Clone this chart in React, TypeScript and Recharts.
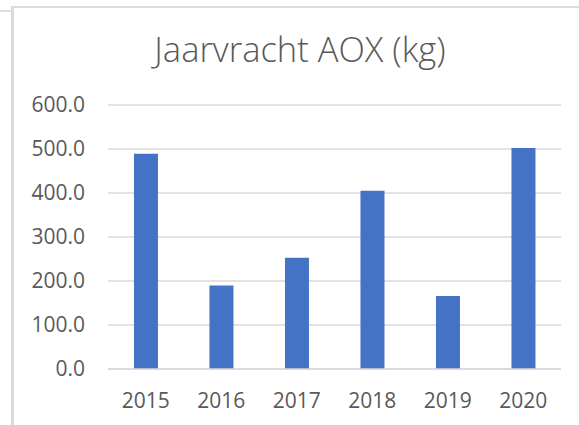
import { BarChart, Bar, XAxis, YAxis, CartesianGrid } from 'recharts'

const YEARS = ['2015', '2016', '2017', '2018', '2019', '2020']
const AOX_KG = [489, 190, 253, 405, 166, 502]
const Y_TICKS = [0, 100, 200, 300, 400, 500, 600]

const data = YEARS.map((year, i) => ({ year, aox: AOX_KG[i] }))

const FONT = '"Open Sans", "Noto Sans", sans-serif'
const TEXT = '#595959'
const GRID = '#d9d9d9'

export default function App() {
  return (
    <div style={{ position: 'absolute', top: 0, left: 0, width: 579, height: 425, background: '#fff', overflow: 'hidden', fontFamily: FONT }}>
      {/* frame edges */}
      <div style={{ position: 'absolute', left: 0, top: 10, width: 11, height: 2, background: '#dcdcdc' }} />
      <div style={{ position: 'absolute', left: 11, top: 6, width: 3, height: 419, background: '#d9d9d9' }} />
      <div style={{ position: 'absolute', left: 12, top: 6, width: 567, height: 2, background: '#dcdcdc' }} />

      <div style={{ position: 'absolute', left: 0, top: 0 }}>
        <BarChart width={579} height={425} data={data} margin={{ top: 105, right: 18, left: 0, bottom: 16 }} barCategoryGap="34.4%">
          <text x={300} y={62} textAnchor="middle" fontSize={34.5} fontWeight={300} fill={TEXT} fontFamily={FONT}>
            Jaarvracht AOX (kg)
          </text>
          <CartesianGrid vertical={false} stroke={GRID} strokeWidth={1.5} />
          <XAxis
            dataKey="year"
            height={40}
            tickLine={false}
            tickSize={0}
            tickMargin={24}
            axisLine={{ stroke: GRID, strokeWidth: 1.5 }}
            tick={{ fill: TEXT, fontSize: 21, fontFamily: FONT }}
          />
          <YAxis
            width={108}
            domain={[0, 600]}
            ticks={Y_TICKS}
            tickFormatter={(v: number) => v.toFixed(1)}
            tickLine={false}
            tickSize={0}
            tickMargin={23}
            axisLine={false}
            tick={{ fill: TEXT, fontSize: 21, fontFamily: FONT }}
          />
          <Bar dataKey="aox" fill="#4472c4" isAnimationActive={false} />
        </BarChart>
      </div>
    </div>
  )
}
